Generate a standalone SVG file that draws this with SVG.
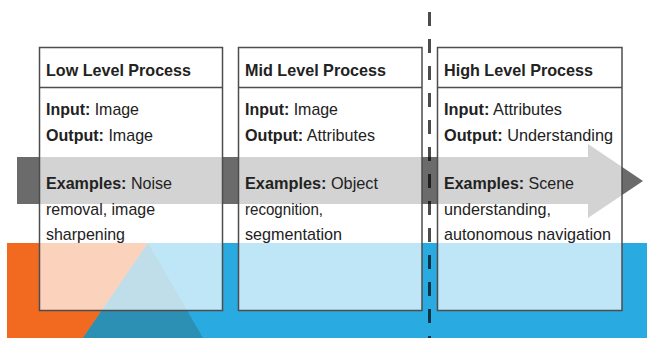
<svg xmlns="http://www.w3.org/2000/svg" width="647" height="338" viewBox="0 0 647 338">
  <style>
    .box { fill: #ffffff; fill-opacity: 0.7; stroke: #4d4d4d; stroke-width: 1.5; }
    .div { stroke: #4d4d4d; stroke-width: 1.5; }
    text { font-family: "Liberation Sans", Arial, sans-serif; font-size: 17px; fill: #222222; }
    .t { font-weight: bold; }
    .b { font-weight: bold; }
  </style>
  <rect x="0" y="0" width="647" height="338" fill="#ffffff"/>
  <g id="background">
    <rect x="7" y="243" width="640" height="95" fill="#29abe2"/>
    <polygon points="7,243 148,243 83,338 7,338" fill="#f26a1f"/>
    <polygon points="148,243 83,338 203,338" fill="#2c8fb4"/>
  </g>
  <g id="connectors">
    <polygon id="process-arrow" points="17,157 588,157 588,144 643,181 588,218 588,204 17,204" fill="#6b6b6b"/>
  </g>
  <g id="low-level">
    <rect class="box" x="39.5" y="47.5" width="183" height="263"/>
    <line class="div" x1="39.5" y1="87.5" x2="222.5" y2="87.5"/>
    <text class="t" x="46" y="76" textLength="145" lengthAdjust="spacingAndGlyphs">Low Level Process</text>
    <text x="46" y="115" textLength="93" lengthAdjust="spacingAndGlyphs"><tspan class="b">Input:</tspan> Image</text>
    <text x="46" y="141" textLength="107" lengthAdjust="spacingAndGlyphs"><tspan class="b">Output:</tspan> Image</text>
    <text x="46" y="189" textLength="126" lengthAdjust="spacingAndGlyphs"><tspan class="b">Examples:</tspan> Noise</text>
    <text x="46" y="215" textLength="109" lengthAdjust="spacingAndGlyphs">removal, image</text>
    <text x="46" y="240" textLength="79" lengthAdjust="spacingAndGlyphs">sharpening</text>
  </g>
  <g id="mid-level">
    <rect class="box" x="238.5" y="47.5" width="183.5" height="263"/>
    <line class="div" x1="238.5" y1="87.5" x2="422" y2="87.5"/>
    <text class="t" x="245" y="76" textLength="141" lengthAdjust="spacingAndGlyphs">Mid Level Process</text>
    <text x="245" y="115" textLength="93" lengthAdjust="spacingAndGlyphs"><tspan class="b">Input:</tspan> Image</text>
    <text x="245" y="141" textLength="130" lengthAdjust="spacingAndGlyphs"><tspan class="b">Output:</tspan> Attributes</text>
    <text x="245" y="189" textLength="133" lengthAdjust="spacingAndGlyphs"><tspan class="b">Examples:</tspan> Object</text>
    <text x="245" y="215" textLength="78" lengthAdjust="spacingAndGlyphs">recognition,</text>
    <text x="245" y="240" textLength="97" lengthAdjust="spacingAndGlyphs">segmentation</text>
  </g>
  <g id="high-level">
    <rect class="box" x="437.5" y="47.5" width="184.5" height="263"/>
    <line class="div" x1="437.5" y1="87.5" x2="622" y2="87.5"/>
    <text class="t" x="444" y="76" textLength="149" lengthAdjust="spacingAndGlyphs">High Level Process</text>
    <text x="444" y="115" textLength="118" lengthAdjust="spacingAndGlyphs"><tspan class="b">Input:</tspan> Attributes</text>
    <text x="444" y="141" textLength="169" lengthAdjust="spacingAndGlyphs"><tspan class="b">Output:</tspan> Understanding</text>
    <text x="444" y="189" textLength="130" lengthAdjust="spacingAndGlyphs"><tspan class="b">Examples:</tspan> Scene</text>
    <text x="444" y="215" textLength="107" lengthAdjust="spacingAndGlyphs">understanding,</text>
    <text x="444" y="240" textLength="167" lengthAdjust="spacingAndGlyphs">autonomous navigation</text>
  </g>
  <g id="divider">
    <line x1="429.5" y1="12" x2="429.5" y2="338" stroke="#000000" stroke-opacity="0.7" stroke-width="3" stroke-dasharray="14 13"/>
  </g>
</svg>
